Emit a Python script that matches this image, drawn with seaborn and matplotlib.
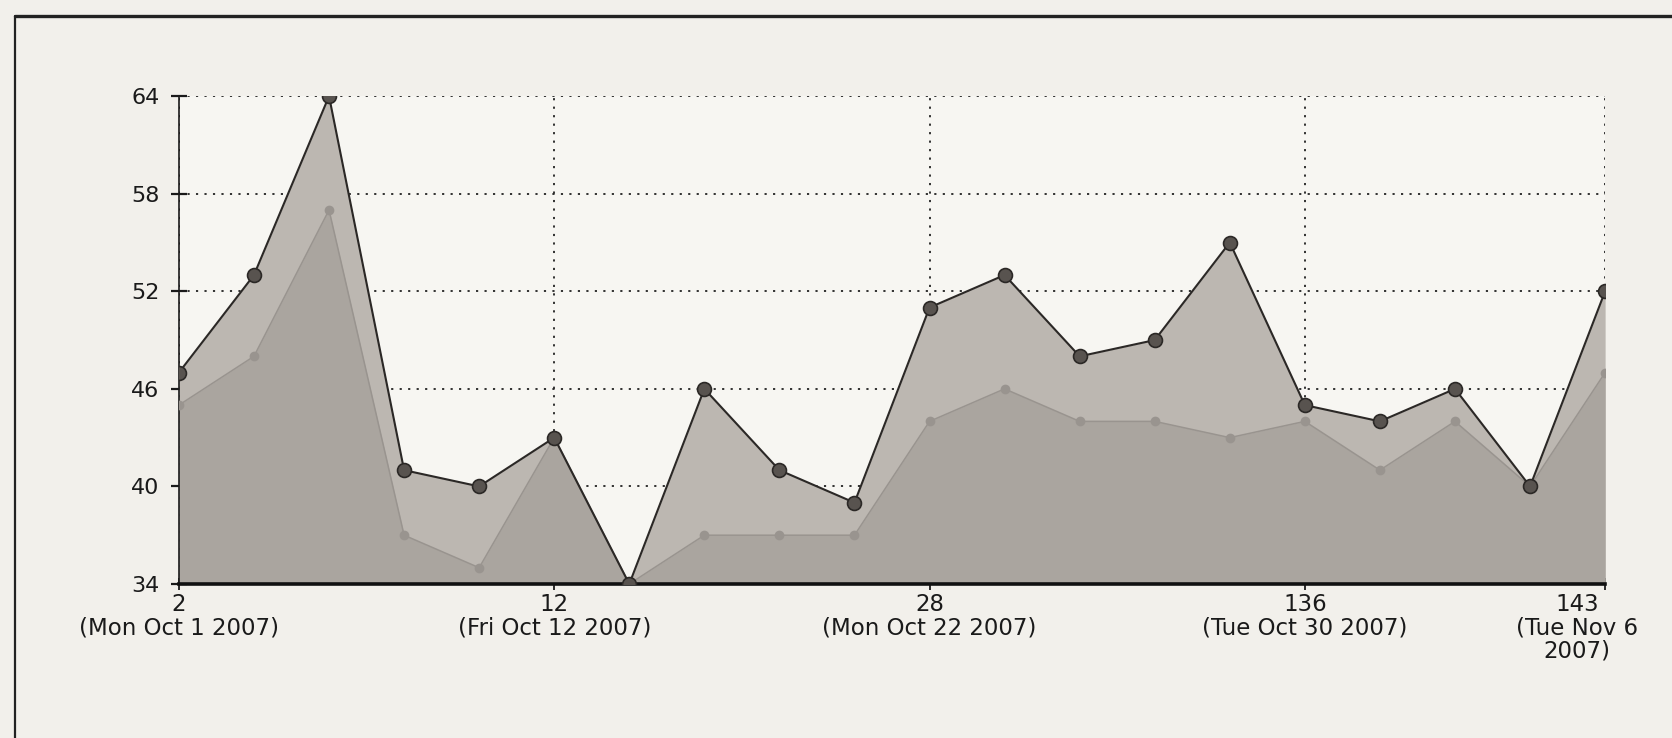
import numpy as np
import matplotlib
matplotlib.use("Agg")
import matplotlib.pyplot as plt
import matplotlib.transforms as mtransforms
from matplotlib.lines import Line2D
import seaborn as sns

# ---- data ----
points = list(range(20))
upper_values = [47, 53, 64, 41, 40, 43, 34, 46, 41, 39,
                51, 53, 48, 49, 55, 45, 44, 46, 40, 52]
lower_values = [45, 48, 57, 37, 35, 43, 34, 37, 37, 37,
                44, 46, 44, 44, 43, 44, 41, 44, 40, 47]
tick_index = [0, 5, 10, 15, 19]
tick_numbers = ["2", "12", "28", "136", "143"]
tick_dates = ["(Mon Oct 1 2007)", "(Fri Oct 12 2007)", "(Mon Oct 22 2007)",
              "(Tue Oct 30 2007)", "(Tue Nov 6\n2007)"]
y_ticks = [34, 40, 46, 52, 58, 64]

sns.set_theme(style="white")
plt.rcParams['font.family'] = ['DejaVu Sans']

paper = '#f2f0eb'
fig = plt.figure(figsize=(16.72, 7.38), dpi=100, facecolor=paper)
ax = fig.add_axes([0.107, 0.2087, 0.853, 0.661], facecolor='#f7f6f2')

ax.fill_between(points, 34, upper_values, color='#bcb7b1', lw=0, zorder=1)
ax.fill_between(points, 34, lower_values, color='#aaa59f', lw=0, zorder=2)

sns.lineplot(x=points, y=lower_values, ax=ax, color='#99948f', lw=1.1,
             marker='o', markersize=7, markeredgewidth=0, zorder=3)
sns.lineplot(x=points, y=upper_values, ax=ax, color='#2b2826', lw=1.5,
             marker='o', markersize=10, markerfacecolor='#58534f',
             markeredgecolor='#2b2826', markeredgewidth=1.2, zorder=4)

ax.set_xlim(0, 19)
ax.set_ylim(34, 64)
ax.set_yticks(y_ticks)
ax.set_yticklabels([str(v) for v in y_ticks])
ax.set_xticks(tick_index)
ax.set_xticklabels([f"{n}\n{d}" for n, d in zip(tick_numbers, tick_dates)],
                   linespacing=1.0)
ax.set_xlabel("")
ax.set_ylabel("")

ax.set_axisbelow(True)
ax.grid(True, linestyle=(0, (1.2, 3.5)), color='#222222', lw=1.3)

for s in ['top', 'right']:
    ax.spines[s].set_visible(False)
ax.spines['left'].set_color('#1a1a1a')
ax.spines['left'].set_linewidth(1.2)
ax.spines['bottom'].set_color('#111111')
ax.spines['bottom'].set_linewidth(2.6)

ax.tick_params(axis='y', which='major', direction='inout', length=12, width=1.6,
               color='#1a1a1a', labelsize=16, labelcolor='#1a1a1a', pad=8, left=True)
ax.tick_params(axis='x', which='major', direction='inout', length=9, width=1.3,
               color='#1a1a1a', labelsize=16.5, labelcolor='#1a1a1a', pad=2, bottom=True)

# last label sits a little to the left of its tick, as in the original
last = ax.get_xticklabels()[-1]
last.set_transform(last.get_transform() +
                   mtransforms.ScaledTranslation(-28 / 100, 0, fig.dpi_scale_trans))

# scanned page frame
fig.add_artist(Line2D([0.009, 1.0], [0.978, 0.978], transform=fig.transFigure,
                      color='#222222', lw=2.4))
fig.add_artist(Line2D([0.009, 0.009], [0.0, 0.978], transform=fig.transFigure,
                      color='#222222', lw=1.6))

fig.savefig("out.png", dpi=100, facecolor=paper)
